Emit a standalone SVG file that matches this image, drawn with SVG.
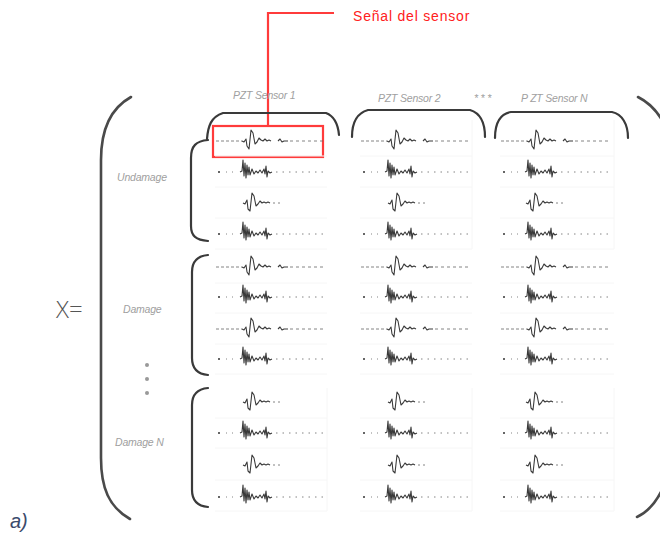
<svg xmlns="http://www.w3.org/2000/svg" xmlns:xlink="http://www.w3.org/1999/xlink" width="660" height="536" viewBox="0 0 660 536">
<style>
.lbl{font-family:"Liberation Sans",Arial,sans-serif;font-style:italic;font-size:10.5px;fill:#a0a0a0;letter-spacing:-0.2px}
.br{fill:none;stroke:#3a3a3a;stroke-width:2.2;stroke-linecap:round}
.paren{fill:none;stroke:#4a4a4a;stroke-width:2.6;stroke-linecap:round}
.pk{fill:none;stroke:#3a3a3a;stroke-width:1.1;stroke-linejoin:round}
.dl{fill:none;stroke:#666;stroke-width:0.8}
.cell{fill:none;stroke:#f6f6f6;stroke-width:1}
.red{fill:none;stroke:#ff3b3b;stroke-width:2.2}
</style>
<defs>
<g id="wA">
<path class="dl" d="M0,0 H26" stroke-dasharray="3,2"/>
<path class="pk" d="M26,0 L28,1 L30,-2 L31,5 L33,8 L35,-11 L37,-8 L39,3 L41,1 L43,-3 L45,-1 L47,0 L49,-2 L51,0 L53,-1 L55,0"/>
<path class="pk" d="M62,0 L64,-2 L66,1 L68,0 L72,0"/>
<path class="dl" d="M74,0 H110" stroke-dasharray="3,3"/>
</g>
<g id="wB">
<circle cx="3" cy="0" r="1" fill="#333"/>
<path class="dl" d="M10,0 H22" stroke-dasharray="1,5"/>
<path class="pk" d="M24,0 L26,-1 L27,-12 L28,4 L29,-9 L30,6 L31,-7 L32,3 L33,-5 L34,3 L36,-3 L38,2 L40,-1 L42,1 L44,-2 L46,1 L48,-3 L49,2 L50,-6 L51,5 L52,-1 L54,1 L56,0"/>
<path class="dl" d="M60,0 H110" stroke-dasharray="1.5,5"/>
</g>
<g id="wC">
<path class="pk" d="M24,0 L26,1 L28,-3 L29,6 L31,8 L33,-10 L35,-7 L37,3 L39,1 L41,-2 L43,0 L45,-1 L47,0 L49,-1 L51,0"/>
<path class="dl" d="M54,0 H62" stroke-dasharray="2,3"/>
</g>
</defs>

<g id="callout">
<polyline class="red" points="334,13 268,13 268,127"/>
<rect x="213" y="126" width="110" height="31" class="red"/>
<text x="353" y="21" font-family="Liberation Sans,Arial,sans-serif" font-size="14" fill="#ff2020" letter-spacing="0.8">Señal del sensor</text>
</g>

<g id="matrix-label">
<text x="56" y="318" font-family="Open Sans,Liberation Sans,sans-serif" font-weight="300" font-size="24" fill="#555">X=</text>
<text x="10" y="528" font-family="Liberation Sans,Arial,sans-serif" font-style="italic" font-size="20" fill="#3b4a6b">a)</text>
</g>

<g id="parentheses">
<path class="paren" d="M131,97 C111,108 101,128 101,160 L101,458 C101,488 109,507 130,519"/>
<path class="paren" d="M638,97 C648,102 656,110 662,120"/>
<path class="paren" d="M637,517 C648,512 656,502 662,490"/>
</g>

<g id="col-headers">
<text class="lbl" x="233" y="99">PZT Sensor 1</text>
<text class="lbl" x="378" y="102">PZT Sensor 2</text>
<text class="lbl" x="474" y="102" letter-spacing="3">* * *</text>
<text class="lbl" x="521" y="102">P ZT Sensor  N</text>
<path class="br" d="M207,139 C208,126 211,117 223,113 L326,113 C334,116 338,124 339,135"/>
<path class="br" d="M352,137 C352,123 357,113 368,110 L470,110 C480,113 485,123 485,137"/>
<path class="br" d="M495,138 C495,124 500,114 511,112 L612,112 C622,114 628,124 628,138"/>
</g>

<g id="row-groups">
<text class="lbl" x="117" y="181">Undamage</text>
<text class="lbl" x="123" y="313">Damage</text>
<text class="lbl" x="115" y="446">Damage  N</text>
<path class="br" d="M208,140 C196,141 191,146 191,158 L191,226 C191,236 196,240 208,241"/>
<path class="br" d="M208,255 C197,256 192,262 192,272 L192,358 C192,368 197,374 208,375"/>
<path class="br" d="M208,388 C197,389 192,395 192,405 L192,490 C192,500 197,506 208,507"/>
<circle cx="147" cy="365" r="2" fill="#999"/>
<circle cx="147" cy="379" r="2" fill="#999"/>
<circle cx="147" cy="393" r="2" fill="#999"/>
</g>

<g id="cells">
<path class="cell" d="M215,156 H327 M215,187 H327 M215,218 H327 M215,249 H327 M215,283 H327 M215,313 H327 M215,344 H327 M215,374 H327 M215,418 H327 M215,448 H327 M215,480 H327 M215,511 H327"/>
<path class="cell" d="M360,156 H472 M360,187 H472 M360,218 H472 M360,249 H472 M360,283 H472 M360,313 H472 M360,344 H472 M360,374 H472 M360,418 H472 M360,448 H472 M360,480 H472 M360,511 H472"/>
<path class="cell" d="M500,156 H614 M500,187 H614 M500,218 H614 M500,249 H614 M500,283 H614 M500,313 H614 M500,344 H614 M500,374 H614 M500,418 H614 M500,448 H614 M500,480 H614 M500,511 H614"/>
<path class="cell" d="M327,388 V511 M472,388 V511 M614,388 V511 M472,120 V249 M614,120 V249"/>
</g>

<g id="waveforms">
<use xlink:href="#wA" x="216" y="141"/>
<use xlink:href="#wB" x="216" y="172"/>
<use xlink:href="#wC" x="219" y="203"/>
<use xlink:href="#wB" x="216" y="234"/>
<use xlink:href="#wA" x="216" y="267"/>
<use xlink:href="#wB" x="216" y="297"/>
<use xlink:href="#wA" x="216" y="329"/>
<use xlink:href="#wB" x="216" y="359"/>
<use xlink:href="#wC" x="219" y="402"/>
<use xlink:href="#wB" x="216" y="433"/>
<use xlink:href="#wC" x="219" y="465"/>
<use xlink:href="#wB" x="216" y="497"/>

<use xlink:href="#wA" x="361" y="141"/>
<use xlink:href="#wB" x="361" y="172"/>
<use xlink:href="#wC" x="364" y="203"/>
<use xlink:href="#wB" x="361" y="234"/>
<use xlink:href="#wA" x="361" y="267"/>
<use xlink:href="#wB" x="361" y="297"/>
<use xlink:href="#wA" x="361" y="329"/>
<use xlink:href="#wB" x="361" y="359"/>
<use xlink:href="#wC" x="364" y="402"/>
<use xlink:href="#wB" x="361" y="433"/>
<use xlink:href="#wC" x="364" y="465"/>
<use xlink:href="#wB" x="361" y="497"/>

<use xlink:href="#wA" x="501" y="141"/>
<use xlink:href="#wB" x="501" y="172"/>
<use xlink:href="#wC" x="502" y="203"/>
<use xlink:href="#wB" x="501" y="234"/>
<use xlink:href="#wA" x="501" y="267"/>
<use xlink:href="#wB" x="501" y="297"/>
<use xlink:href="#wA" x="501" y="329"/>
<use xlink:href="#wB" x="501" y="359"/>
<use xlink:href="#wC" x="502" y="402"/>
<use xlink:href="#wB" x="501" y="433"/>
<use xlink:href="#wC" x="502" y="465"/>
<use xlink:href="#wB" x="501" y="497"/>
</g>
</svg>
